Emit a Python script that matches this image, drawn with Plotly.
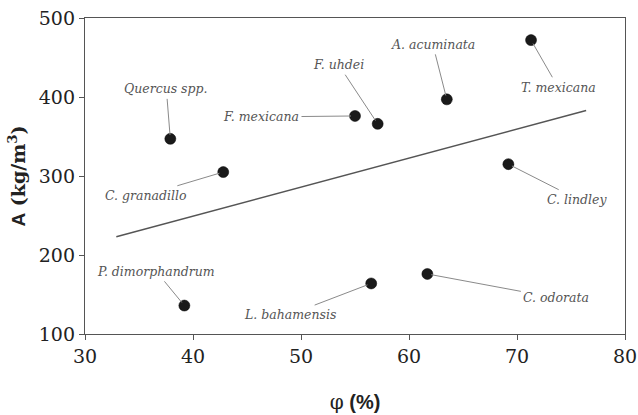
import plotly.graph_objects as go

species = ["Quercus spp.", "C. granadillo", "F. mexicana", "F. uhdei", "A. acuminata",
           "T. mexicana", "C. lindley", "P. dimorphandrum", "L. bahamensis", "C. odorata"]
phi = [37.9, 42.8, 55.0, 57.1, 63.5, 71.3, 69.2, 39.2, 56.5, 61.7]
dens = [347, 305, 376, 366, 397, 472, 315, 136, 164, 176]

# label offsets (pixels) from each point
label_dx = [-4, -77, -94, -39, -14, 27, 69, -28, -81, 129]
label_dy = [-50, 23, 1, -59, -55, 47, 35, -34, 31, 24]

trend_x = [32.9, 76.4]
trend_y = [223, 383]

fig = go.Figure()
fig.add_trace(go.Scatter(x=trend_x, y=trend_y, mode="lines",
                         line=dict(color="#555555", width=1.5), hoverinfo="skip"))
fig.add_trace(go.Scatter(x=phi, y=dens, mode="markers",
                         marker=dict(color="#1a1a1a", size=11,
                                     line=dict(color="#000", width=0.5))))

for s, x, y, dx, dy in zip(species, phi, dens, label_dx, label_dy):
    fig.add_annotation(x=x, y=y, text="<i>" + s + "</i>", showarrow=True,
                       ax=dx, ay=dy, arrowhead=0, arrowwidth=1, arrowcolor="#8a8a8a",
                       standoff=4, startstandoff=1,
                       font=dict(family="DejaVu Serif", size=12.5, color="#555555"))

axis_common = dict(showline=True, linecolor="#555555", linewidth=1.3, mirror=True,
                   ticks="outside", ticklen=5, tickcolor="#555555", tickwidth=1.3,
                   showgrid=False, zeroline=False, automargin=False,
                   tickfont=dict(family="DejaVu Serif", size=19, color="#222222"))

fig.update_layout(
    width=638, height=415, showlegend=False,
    margin=dict(l=85, r=13, t=18, b=81),
    paper_bgcolor="white", plot_bgcolor="white",
    xaxis=dict(range=[30, 80], dtick=10, **axis_common,
               title=dict(text='<span style="font-family:DejaVu Serif;font-weight:normal">φ</span> <b>(%)</b>',
                          font=dict(family="Liberation Sans", size=20, color="#222222"),
                          standoff=29)),
    yaxis=dict(range=[100, 500], dtick=100, **axis_common,
               title=dict(text='<b><span style="font-family:Liberation Sans">A</span> (kg/m<sup>3</sup>)</b>',
                          font=dict(family="DejaVu Serif", size=19, color="#222222"),
                          standoff=8)),
)

fig.write_html("out.html")
